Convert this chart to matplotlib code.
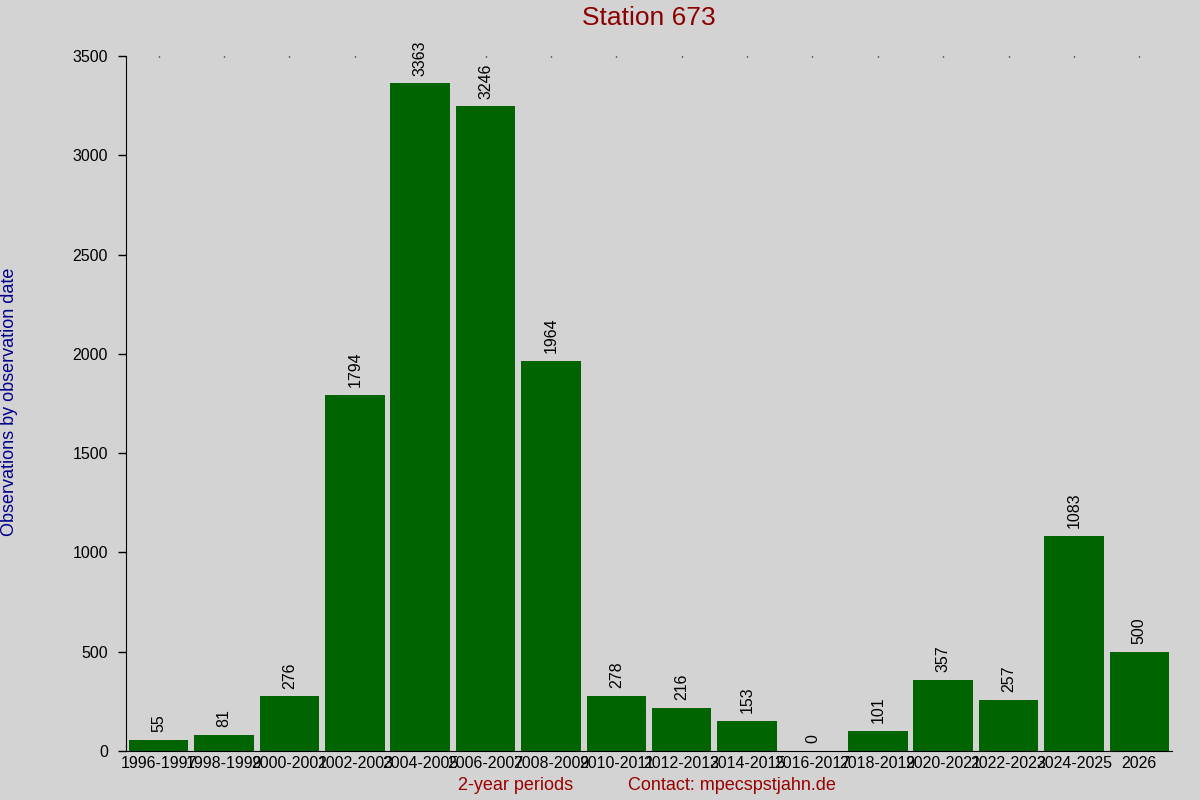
import matplotlib
matplotlib.use("Agg")
import matplotlib.pyplot as plt

plt.rcParams['font.family'] = ['Liberation Sans', 'DejaVu Sans']

# 2-year periods and observation counts
periods = ["1996-1997", "1998-1999", "2000-2001", "2002-2003", "2004-2005",
           "2006-2007", "2008-2009", "2010-2011", "2012-2013", "2014-2015",
           "2016-2017", "2018-2019", "2020-2021", "2022-2023", "2024-2025", "2026"]
counts = [55, 81, 276, 1794, 3363, 3246, 1964, 278, 216, 153, 0, 101, 357, 257, 1083, 500]
yticks = [0, 500, 1000, 1500, 2000, 2500, 3000, 3500]

bg = "#d3d3d3"
fig = plt.figure(figsize=(12, 8), dpi=100, facecolor=bg)
ax = fig.add_axes([126/1200, 1-751/800, (1172-126)/1200, (751-56)/800])
ax.set_facecolor(bg)

x = list(range(len(periods)))
bars = ax.bar(x, counts, width=0.91, color="#006400")
ax.set_xlim(-0.5, len(periods) - 0.5)
ax.set_ylim(0, 3500)

for xi, v in zip(x, counts):
    ax.annotate(str(v), (xi, v), xytext=(0, 5.5), textcoords="offset points",
                rotation=90, ha="center", va="bottom", fontsize=11.5)

ax.set_xticks(x)
ax.set_xticklabels(periods, fontsize=11.5)
ax.set_yticks(yticks)
ax.set_yticklabels([str(t) for t in yticks], fontsize=11.5)
ax.tick_params(axis='x', bottom=False, top=True, direction='in', length=1, width=1, pad=3.5)
ax.tick_params(axis='y', direction='out', length=6, width=1, pad=7)

ax.spines['top'].set_visible(False)
ax.spines['right'].set_visible(False)

fig.text(649/1200, 1-18/800, "Station 673", color="#8b0000", fontsize=19,
         ha="center", va="center")
fig.text(10/1200, 1-402/800, "Observations by observation date", color="#00008b",
         fontsize=13, rotation=90, ha="center", va="center")
fig.text(516/1200, 1-786/800, "2-year periods", color="#990000", fontsize=13,
         ha="center", va="center")
fig.text(732/1200, 1-786/800, "Contact: mpecspstjahn.de", color="#990000", fontsize=13,
         ha="center", va="center")

fig.savefig("out.png", dpi=100, facecolor=bg)
